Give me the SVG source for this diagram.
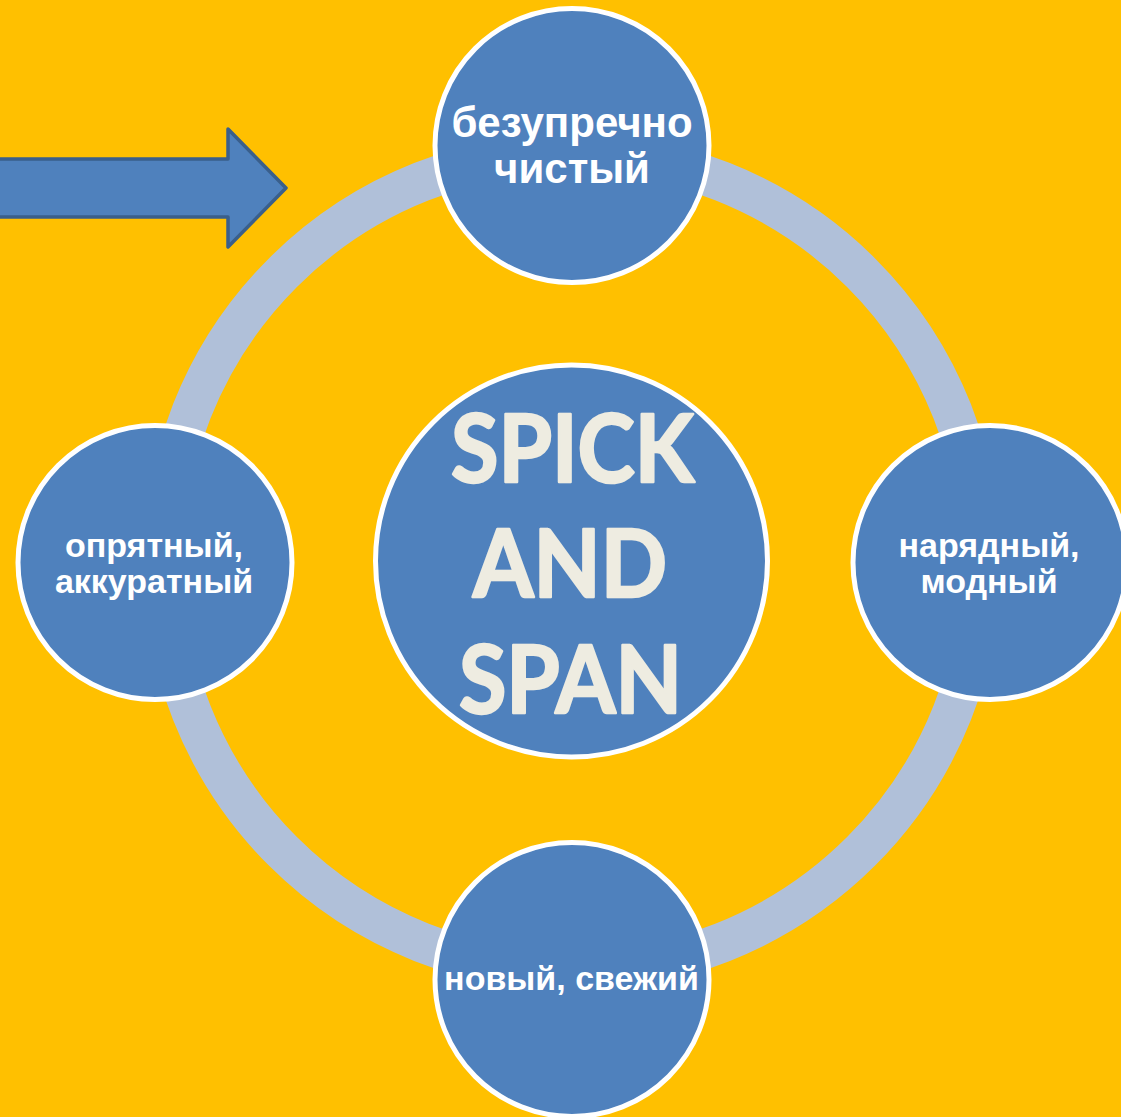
<svg xmlns="http://www.w3.org/2000/svg" width="1121" height="1117" viewBox="0 0 1121 1117">
<style>
.node{fill:#4F81BD;stroke:#FFFFFF;stroke-width:5}
.lbl{font-family:"Liberation Sans",Arial,sans-serif;font-weight:bold;fill:#FFFFFF;text-anchor:middle}
.big{font-family:Lato,"Open Sans",sans-serif;font-weight:bold;fill:#EEECE1;stroke:#EEECE1;stroke-width:2.5;stroke-linejoin:round;text-anchor:middle;font-size:93px}
</style>
<rect x="0" y="0" width="1121" height="1117" fill="#FFC000"/>
<g id="connectors">
<circle cx="572" cy="562" r="409" fill="none" stroke="#B0C0D9" stroke-width="40"/>
</g>
<g id="arrow">
<path d="M -5 159 L 228 159 L 228 129 L 286 188 L 228 247 L 228 217 L -5 217 Z" fill="#4F81BD" stroke="#3A5F8B" stroke-width="3.5" stroke-linejoin="round"/>
</g>
<g id="node-center">
<circle class="node" cx="571.5" cy="561" r="196"/>
<text class="big" x="572.5" y="482" textLength="243" lengthAdjust="spacingAndGlyphs">SPICK</text>
<text class="big" x="570" y="597" textLength="194" lengthAdjust="spacingAndGlyphs">AND</text>
<text class="big" x="570.5" y="713" textLength="223" lengthAdjust="spacingAndGlyphs">SPAN</text>
</g>
<g id="node-top">
<circle class="node" cx="572" cy="145.5" r="137"/>
<text class="lbl" x="572" y="137" font-size="42">безупречно</text>
<text class="lbl" x="572" y="183" font-size="42">чистый</text>
</g>
<g id="node-right">
<circle class="node" cx="990" cy="562.5" r="137"/>
<text class="lbl" x="989" y="557" font-size="34">нарядный,</text>
<text class="lbl" x="989" y="593" font-size="34">модный</text>
</g>
<g id="node-bottom">
<circle class="node" cx="572" cy="979.5" r="137"/>
<text class="lbl" x="571.5" y="990" font-size="34">новый, свежий</text>
</g>
<g id="node-left">
<circle class="node" cx="155" cy="562.5" r="137"/>
<text class="lbl" x="154" y="557" font-size="34">опрятный,</text>
<text class="lbl" x="154" y="593" font-size="34">аккуратный</text>
</g>
</svg>
